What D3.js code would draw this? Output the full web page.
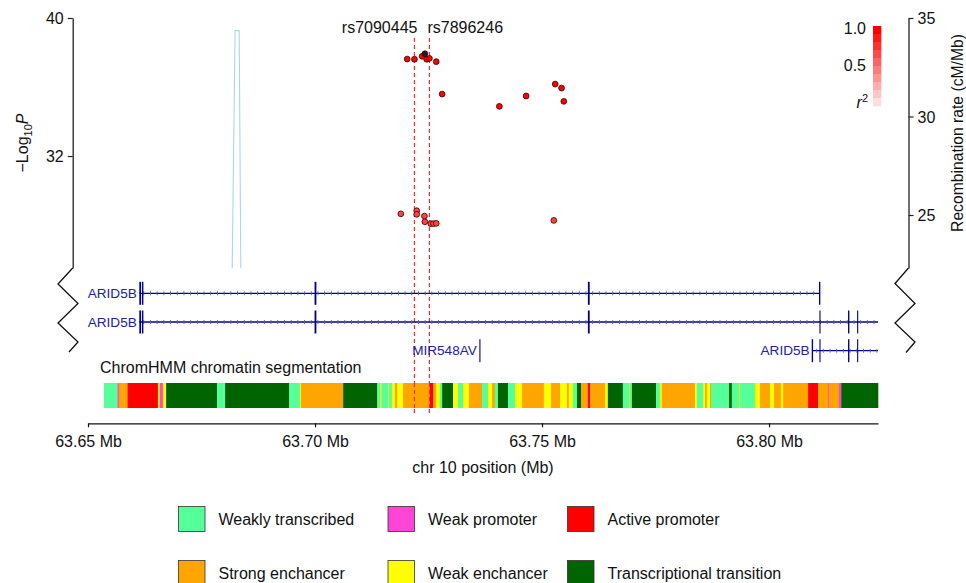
<!DOCTYPE html>
<html><head><meta charset="utf-8">
<script src="https://cdn.jsdelivr.net/npm/d3@7"></script>
<style>body{margin:0;background:#fff}svg{display:block;font-family:"Liberation Sans",Arial,sans-serif}</style>
</head><body><svg id="c" width="966" height="583"></svg>
<script>
// ---------- data ----------
const snpPos  = [63.7203,63.7219,63.7236,63.7246,63.7252,63.7267,63.7280,63.7406,63.7465,63.7529,63.7543,63.7548,
                 63.7189,63.7224,63.7224,63.7241,63.7242,63.7255,63.7261,63.7267,63.7526,63.7242];
const snpLogP = [37.62,37.61,37.78,37.61,37.66,37.47,35.59,34.88,35.48,36.17,35.94,35.17,
                 28.65,28.83,28.62,28.52,28.19,28.08,28.08,28.10,28.27,37.93];
const snpR2   = [1,1,1,1,1,1,1,1,1,1,1,1, 0.72,0.72,0.72,0.72,0.72,0.72,0.72,0.72,0.72,1];
const leadIndex = 21;

const markerNames = ["rs7090445","rs7896246"];
const markerPos   = [63.7219,63.7252];

const recombPos  = [63.650,63.6806,63.6824,63.6833,63.6843,63.824];
const recombRate = [0.5,0.5,34.36,34.36,0.5,0.5];

const leftTicks  = [32,40];
const rightTicks = [25,30,35];
const xTicks     = [63.65,63.70,63.75,63.80];
const r2Ticks    = ["1.0","0.5"];

const geneNames  = ["ARID5B","ARID5B","ARID5B","MIR548AV"];
const geneRows   = [0,1,2,2];
const geneStart  = [63.6613,63.6613,63.8095,63.7362];
const geneEnd    = [63.8112,63.8240,63.8240,63.7362];
const geneExons  = [
  [[63.6613,63.6617],[63.6619,63.6622],[63.6999,63.7003],[63.7601,63.7605],[63.8110,63.8113]],
  [[63.6613,63.6617],[63.6619,63.6622],[63.6999,63.7003],[63.7601,63.7605],[63.8111,63.8111],[63.8174,63.8177],[63.8194,63.8194]],
  [[63.8094,63.8097],[63.8111,63.8111],[63.8174,63.8177],[63.8194,63.8194]],
  [[63.7362,63.7362]]
];

const segStart = [63.6535,63.6565,63.6568,63.6587,63.6654,63.6658,63.6665,63.6672,63.6784,63.6802,63.6943,63.6967,63.6969,
  63.7062,63.7137,63.7143,63.7146,63.7161,63.7163,63.7170,63.7176,63.7181,63.7194,63.7253,63.7260,63.7267,63.7275,63.7280,
  63.7304,63.7315,63.7326,63.7339,63.7368,63.7381,63.7390,63.7396,63.7403,63.7425,63.7441,63.7456,63.7504,63.7520,63.7540,
  63.7555,63.7559,63.7568,63.7577,63.7586,63.7601,63.7606,63.7639,63.7645,63.7678,63.7692,63.7694,63.7698,63.7751,63.7760,
  63.7764,63.7837,63.7841,63.7855,63.7859,63.7863,63.7870,63.7872,63.7912,63.7918,63.7934,63.7936,63.7969,63.7980,63.8002,
  63.8011,63.8026,63.8031,63.8086,63.8108,63.8130,63.8132,63.8154,63.8159];
const segEndLast = 63.8240;
const segState = ["WT","WP","SE","AP","WE","WP","WE","TT","WT","TT","WT","WE","SE",
  "TT","WT","WE","WT","WE","WT","WE","SE","WE","SE","AP","SE","WE","WT","TT",
  "WE","WT","WE","SE","WT","WE","SE","WT","TT","WT","WE","SE","WE","SE","WE",
  "SE","WE","WT","TT","SE","AP","SE","WE","TT","WT","WE","WT","TT","WT","WE",
  "SE","WE","WT","WE","SE","WE","SE","WT","TT","WT","WE","WT","WE","SE","WE",
  "SE","WE","SE","AP","SE","WP","SE","WP","TT"];

const stateKeys   = ["WT","WP","AP","SE","WE","TT"];
const stateLabels = ["Weakly transcribed","Weak promoter","Active promoter","Strong enchancer","Weak enchancer","Transcriptional transition"];
const stateColors = ["#55ff99","#ff44d8","#ff0000","#ffa500","#ffff00","#006400"];

// ---------- drawing ----------
const svg = d3.select("#c");
const FS = 16;
const x  = d3.scaleLinear().domain([63.65,63.824]).range([88,878]);
const yL = d3.scaleLinear().domain([25.51,40]).range([268,18]);
const yR = d3.scaleLinear().domain([22.31,35]).range([268,18]);
const r2col = d3.scaleLinear().domain([0,1]).range(["#ffeaea","#ff0000"]);
const stateColor = d3.scaleOrdinal().domain(stateKeys).range(stateColors);
const navy = "#00008b";

svg.append("clipPath").attr("id","pc").append("rect").attr("x",88).attr("y",18).attr("width",790).attr("height",250);

// left axis
const gl = svg.append("g").attr("transform","translate(72.7,0)")
  .call(d3.axisLeft(yL).tickValues(leftTicks).tickSize(5).tickSizeOuter(0).tickFormat(d3.format("d")));
// right axis
const gr = svg.append("g").attr("transform","translate(908.5,0)")
  .call(d3.axisRight(yR).tickValues(rightTicks).tickSize(5).tickSizeOuter(0).tickFormat(d3.format("d")));
[gl,gr].forEach(g=>{
  g.select(".domain").attr("stroke","#222").attr("stroke-width",1.3);
  g.selectAll(".tick line").attr("stroke","#222").attr("stroke-width",1.2);
  g.selectAll(".tick text").attr("font-size",FS).attr("fill","#111").attr("font-family","Liberation Sans, Arial, sans-serif");
});
gl.selectAll(".tick text").attr("dy","0.35em").attr("x",-9);
gr.selectAll(".tick text").attr("dy","0.35em").attr("x",9);

// zigzags
const zz = d3.line();
svg.append("path").attr("d",zz([[72.7,268],[58,284],[78,303.5],[58,323],[78,342],[69,352]]))
  .attr("fill","none").attr("stroke","#111").attr("stroke-width",1.3);
svg.append("path").attr("d",zz([[908.5,268],[895,283.5],[915,303.5],[895,323],[915,342],[906,352.5]]))
  .attr("fill","none").attr("stroke","#111").attr("stroke-width",1.3);

// axis titles
const lt = svg.append("text").attr("transform","translate(28,143) rotate(-90)").attr("text-anchor","middle")
  .attr("font-size",FS).attr("fill","#111");
lt.append("tspan").text("\u2212Log");
lt.append("tspan").text("10").attr("font-size",11).attr("dy",4);
lt.append("tspan").text("P").attr("font-style","italic").attr("dy",-4);
svg.append("text").attr("transform","translate(963,133) rotate(-90)").attr("text-anchor","middle")
  .attr("font-size",15.7).attr("fill","#111").text("Recombination rate (cM/Mb)");

// recombination line
svg.append("path").attr("clip-path","url(#pc)")
  .datum(recombPos.map((p,i)=>[p,recombRate[i]]))
  .attr("d",d3.line().x(d=>x(d[0])).y(d=>yR(d[1])))
  .attr("fill","none").attr("stroke","#a8d8e6").attr("stroke-width",1.1);

// marker dashed lines + labels
markerPos.forEach((p,i)=>{
  svg.append("line").attr("x1",x(p)).attr("x2",x(p)).attr("y1",38).attr("y2",413)
    .attr("stroke","#ff2a2a").attr("stroke-width",1.2).attr("stroke-dasharray","4,3");
});
svg.append("text").attr("x",x(markerPos[0])+3).attr("y",33).attr("text-anchor","end")
  .attr("font-size",FS).attr("fill","#111").text(markerNames[0]);
svg.append("text").attr("x",x(markerPos[1])-2).attr("y",33).attr("text-anchor","start")
  .attr("font-size",FS).attr("fill","#111").text(markerNames[1]);

// SNP points
svg.append("g").selectAll("circle").data(snpPos.map((p,i)=>({p,l:snpLogP[i],r:snpR2[i],lead:i===leadIndex})))
  .join("circle").attr("cx",d=>x(d.p)).attr("cy",d=>yL(d.l)).attr("r",2.9)
  .attr("fill",d=>d.lead?"#222":r2col(d.r)).attr("stroke","#3a0000").attr("stroke-width",0.8);

// r2 legend
const nSteps = 10;
d3.range(nSteps).forEach(i=>{
  const v = 1 - i/(nSteps-1);
  svg.append("rect").attr("x",873).attr("y",26+i*8).attr("width",8.3).attr("height",8.2)
    .attr("fill",r2col(v*0.95+0.05));
});
svg.append("text").attr("x",866).attr("y",28).attr("dy","0.35em").attr("text-anchor","end").attr("font-size",FS).attr("fill","#111").text(r2Ticks[0]);
svg.append("text").attr("x",866).attr("y",65).attr("dy","0.35em").attr("text-anchor","end").attr("font-size",FS).attr("fill","#111").text(r2Ticks[1]);
const r2t = svg.append("text").attr("x",868).attr("y",108).attr("text-anchor","end").attr("font-size",FS).attr("fill","#111");
r2t.append("tspan").text("r").attr("font-style","italic");
r2t.append("tspan").text("2").attr("font-size",11).attr("dy",-6);

// genes
const rowY = [293.3,322,350.7];
geneNames.forEach((name,i)=>{
  const y = rowY[geneRows[i]];
  const g = svg.append("g");
  if (geneEnd[i] > geneStart[i]) {
    g.append("line").attr("x1",x(geneStart[i])).attr("x2",x(geneEnd[i])).attr("y1",y).attr("y2",y)
      .attr("stroke",navy).attr("stroke-width",1.3);
    g.append("line").attr("x1",x(geneStart[i])+4).attr("x2",x(geneEnd[i])).attr("y1",y).attr("y2",y)
      .attr("stroke","#5a5ac0").attr("stroke-width",4).attr("stroke-dasharray","0.9,5.8");
  }
  geneExons[i].forEach(e=>{
    const w = Math.max(1.1, x(e[1])-x(e[0]));
    g.append("rect").attr("x",x(e[0])).attr("y",y-11.5).attr("width",w).attr("height",23).attr("fill",navy);
  });
  g.append("text").attr("x",x(geneStart[i])-2.5).attr("y",y).attr("dy","0.35em").attr("text-anchor","end")
    .attr("font-size",13.6).attr("fill","#2222a0").text(name);
});

// chromHMM
svg.append("text").attr("x",100).attr("y",367).attr("dy","0.35em").attr("font-size",FS).attr("fill","#111")
  .text("ChromHMM chromatin segmentation");
svg.append("g").selectAll("rect").data(segStart.map((s,i)=>({s,e:i<segStart.length-1?segStart[i+1]:segEndLast,k:segState[i]})))
  .join("rect").attr("x",d=>x(d.s)).attr("y",383).attr("width",d=>x(d.e)-x(d.s)+0.3).attr("height",25)
  .attr("fill",d=>stateColor(d.k));
markerPos.forEach(p=>{
  svg.append("line").attr("x1",x(p)).attr("x2",x(p)).attr("y1",383).attr("y2",413)
    .attr("stroke","#ff2a2a").attr("stroke-width",1.2).attr("stroke-dasharray","4,3");
});

// x axis
const gx = svg.append("g").attr("transform","translate(0,423.3)")
  .call(d3.axisBottom(x).tickValues(xTicks).tickSize(4).tickSizeOuter(0).tickFormat(d=>d3.format(".2f")(d)+" Mb"));
gx.select(".domain").attr("stroke","#111").attr("stroke-width",1.3);
gx.selectAll(".tick line").attr("stroke","#111").attr("stroke-width",1.2);
gx.selectAll(".tick text").attr("font-size",FS).attr("fill","#111").attr("y",12).attr("font-family","Liberation Sans, Arial, sans-serif");
svg.append("text").attr("x",483).attr("y",467).attr("dy","0.35em").attr("text-anchor","middle")
  .attr("font-size",FS).attr("fill","#111").text("chr 10 position (Mb)");

// legend
const colX = [178.5,388,567.5], rowLY = [519,573];
stateKeys.forEach((k,i)=>{
  const cx = colX[i%3], cy = rowLY[Math.floor(i/3)];
  svg.append("rect").attr("x",cx).attr("y",cy-12.5).attr("width",26.5).attr("height",25)
    .attr("fill",stateColors[i]).attr("stroke","#333").attr("stroke-width",0.8);
  svg.append("text").attr("x",cx+40).attr("y",cy).attr("dy","0.35em").attr("font-size",FS).attr("fill","#111")
    .text(stateLabels[i]);
});
</script></body></html>
